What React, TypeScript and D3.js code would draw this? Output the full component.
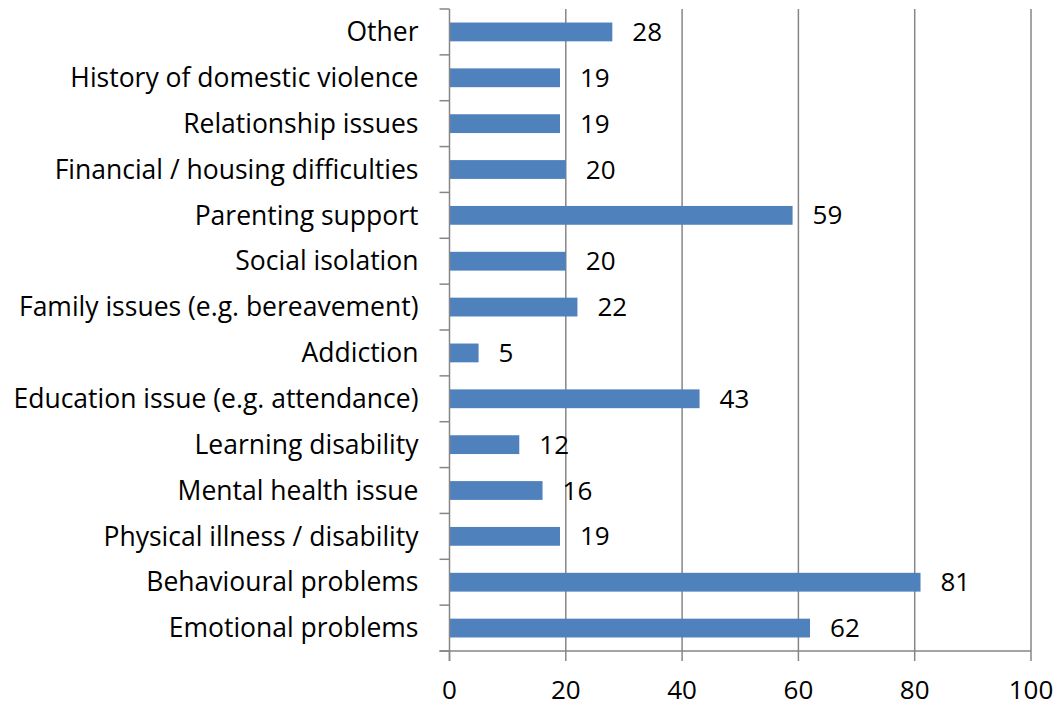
import React from "react";
import * as d3 from "d3";

const categories = [
  "Other",
  "History of domestic violence",
  "Relationship issues",
  "Financial / housing difficulties",
  "Parenting support ",
  "Social isolation",
  "Family issues (e.g. bereavement)",
  "Addiction",
  "Education issue (e.g. attendance)",
  "Learning disability",
  "Mental health issue",
  "Physical illness / disability",
  "Behavioural problems",
  "Emotional problems",
];
const values = [28, 19, 19, 20, 59, 20, 22, 5, 43, 12, 16, 19, 81, 62];
const xTicks = [0, 20, 40, 60, 80, 100];

const W = 1059;
const H = 707;
const left = 449.5;
const right = 1031;
const top = 9;
const bottom = 651;
const FONT = "'Open Sans', 'Liberation Sans', sans-serif";

export default function App() {
  const x = d3.scaleLinear().domain([0, 100]).range([left, right]);
  const y = d3.scaleBand<string>().domain(categories).range([top, bottom]).paddingInner(0.59).paddingOuter(0.295);
  const band = (bottom - top) / categories.length;
  const gridColor = "#868686";
  return (
    <svg width={W} height={H} style={{ position: "absolute", left: 0, top: 0, background: "#fff" }}>
      {xTicks.filter((t) => t > 0).map((t) => (
        <line key={"g" + t} x1={x(t)} x2={x(t)} y1={top} y2={bottom} stroke={gridColor} strokeWidth={1.5} />
      ))}
      {categories.map((c, i) => (
        <rect key={"b" + i} x={x(0)} y={y(c)!} width={x(values[i]) - x(0)} height={y.bandwidth()} fill="#4f81bd" />
      ))}
      <line x1={left} x2={left} y1={top} y2={bottom + 10} stroke={gridColor} strokeWidth={1.5} />
      {d3.range(categories.length + 1).map((i) => (
        <line key={"yt" + i} x1={left - 10} x2={left} y1={top + i * band} y2={top + i * band} stroke={gridColor} strokeWidth={1.5} />
      ))}
      <line x1={left - 10} x2={right} y1={bottom} y2={bottom} stroke={gridColor} strokeWidth={1.5} />
      {xTicks.map((t) => (
        <line key={"xt" + t} x1={x(t)} x2={x(t)} y1={bottom} y2={bottom + 10} stroke={gridColor} strokeWidth={1.5} />
      ))}
      {xTicks.map((t) => (
        <text key={"xl" + t} x={x(t)} y={699} textAnchor="middle" fontFamily={FONT} fontSize={26} fill="#000">
          {t}
        </text>
      ))}
      {categories.map((c, i) => (
        <text key={"cl" + i} x={left - 31} y={y(c)! + y.bandwidth() / 2} dy="0.35em" textAnchor="end" fontFamily={FONT} fontSize={26.5} fill="#000">
          {c}
        </text>
      ))}
      {categories.map((c, i) => (
        <text key={"vl" + i} x={x(values[i]) + 20} y={y(c)! + y.bandwidth() / 2} dy="0.35em" textAnchor="start" fontFamily={FONT} fontSize={26} fill="#000">
          {values[i]}
        </text>
      ))}
    </svg>
  );
}
